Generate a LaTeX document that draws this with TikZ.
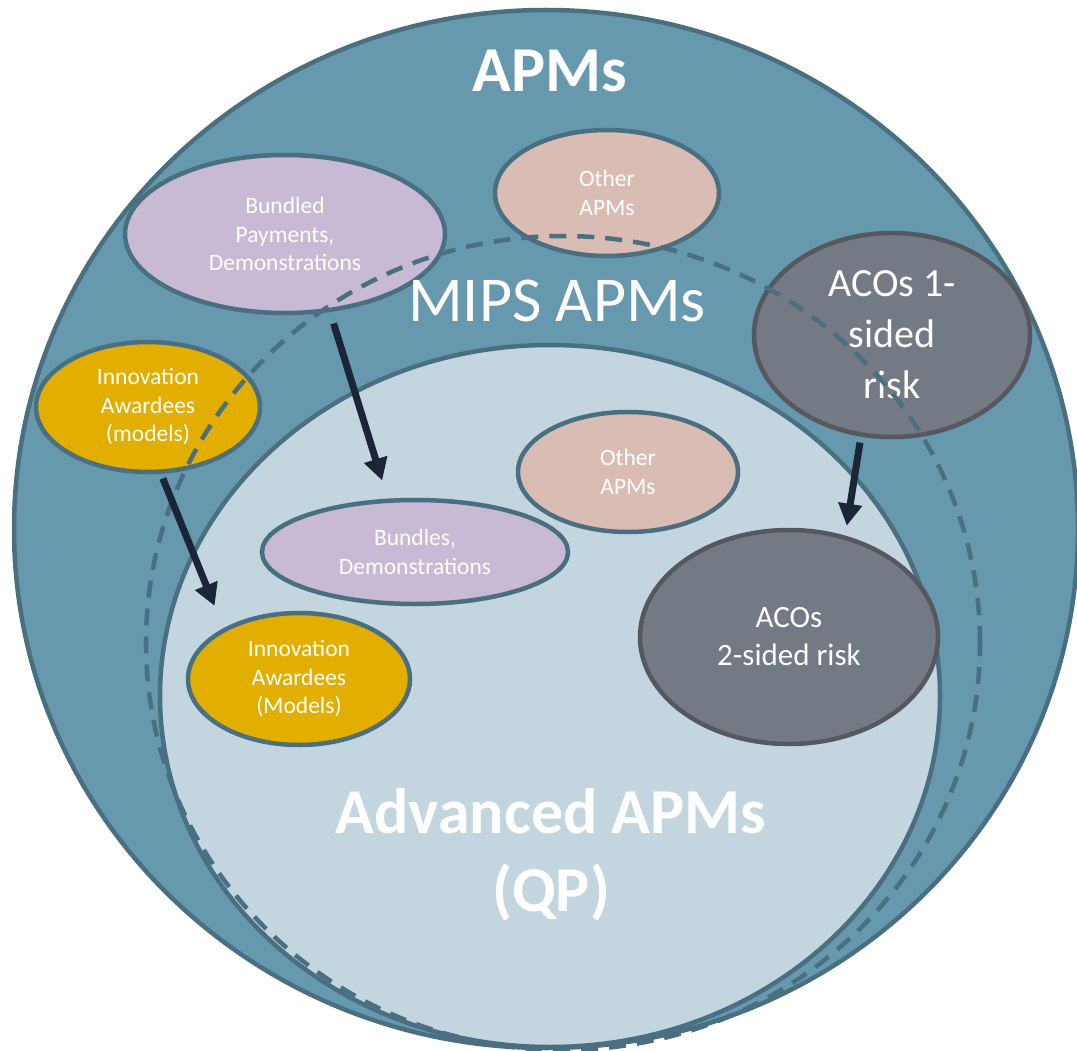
\documentclass[tikz,border=0pt]{standalone}
\usepackage{fontspec}
\setmainfont{Carlito}
\usetikzlibrary{shapes.geometric,arrows.meta}
\definecolor{outerblue}{HTML}{6698AE}
\definecolor{edgeblue}{HTML}{4A6F80}
\definecolor{innerblue}{HTML}{C3D5DF}
\definecolor{lav}{HTML}{C8B9D5}
\definecolor{pinkish}{HTML}{D9BDB5}
\definecolor{acogray}{HTML}{737A83}
\definecolor{acoedge}{HTML}{55585F}
\definecolor{gold}{HTML}{E2AE00}
\definecolor{arrowcol}{HTML}{1B2537}
\begin{document}
\begin{tikzpicture}[x=1pt,y=-1pt,
  ring/.style={draw=edgeblue,line width=4.5pt},
  blob/.style={ellipse,draw=edgeblue,line width=4.5pt,inner sep=0pt,text=white,align=center,
    font=\fontsize{23.5}{28.5}\selectfont},
  acoblob/.style={blob,draw=acoedge,fill=acogray},
  flow/.style={draw=arrowcol,line width=7pt,-{Triangle[length=22pt,width=23pt]}},
  bigtext/.style={text=white,align=center,font=\fontsize{64}{78}\selectfont},
]
\useasboundingbox (0,0) rectangle (1077,1051);
% outer APMs circle
\path[ring,fill=outerblue] (546,529) ellipse [x radius=532pt, y radius=519pt];
% Advanced APMs circle
\path[ring,fill=innerblue] (550,696) ellipse [x radius=390pt, y radius=351pt];
% outer ellipses
\node[blob,fill=lav,minimum width=320pt,minimum height=158pt] (bp) at (285,234) {Bundled\\Payments,\\Demonstrations};
\node[blob,fill=pinkish,minimum width=224pt,minimum height=126pt] (oa1) at (607,193) {Other\\APMs};
\node[acoblob,minimum width=276pt,minimum height=204pt,font=\fontsize{40}{51}\selectfont] (aco1) at (892,335) {ACOs 1-\\sided\\risk};
\node[blob,fill=gold,minimum width=224pt,minimum height=130pt] (ia1) at (148,407) {Innovation\\Awardees\\(models)};
% inner ellipses
\node[blob,fill=pinkish,minimum width=220pt,minimum height=120pt] (oa2) at (628,472) {Other\\APMs};
\node[blob,fill=lav,minimum width=306pt,minimum height=104pt] (bd) at (415,552) {Bundles,\\Demonstrations};
\node[acoblob,minimum width=298pt,minimum height=214pt,font=\fontsize{31}{38}\selectfont] (aco2) at (789,637) {ACOs\\2-sided risk};
\node[blob,fill=gold,minimum width=222pt,minimum height=132pt] (ia2) at (299,679) {Innovation\\Awardees\\(Models)};
% MIPS APMs dashed circle
\draw[edgeblue,line width=4.5pt,dash pattern=on 17pt off 11pt] (563,643) ellipse [x radius=417pt, y radius=407pt];
% arrows
\draw[flow,shorten <=12pt,shorten >=19pt] (bp.-60) -- (bd.117.7);
\draw[flow,shorten <=5pt,shorten >=24pt] (ia1.-79) -- (ia2.146.3);
\draw[flow,shorten <=6pt,shorten >=10pt] (aco1.-107.2) -- (aco2.61.6);
% titles
\node[bigtext,font=\bfseries\fontsize{64}{78}\selectfont] (apms) at (550,71) {APMs};
\node[bigtext] (mips) at (557,301) {MIPS APMs};
\node[bigtext,font=\bfseries\fontsize{64}{78}\selectfont] (adv) at (551,855) {Advanced APMs\\(QP)};
\end{tikzpicture}
\end{document}
